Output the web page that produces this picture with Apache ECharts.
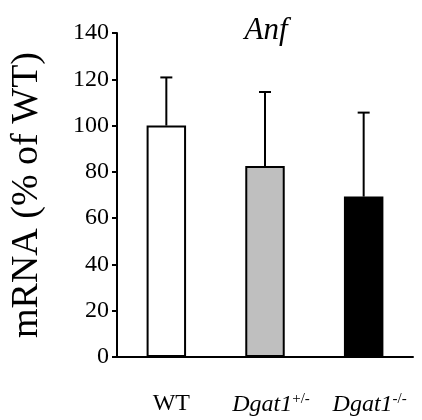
<!DOCTYPE html>
<html>
<head>
<meta charset="utf-8">
<script src="https://cdn.jsdelivr.net/npm/echarts@6/dist/echarts.min.js"></script>
<style>html,body{margin:0;padding:0;background:#fff}#c{width:422px;height:420px}</style>
</head>
<body>
<div id="c"></div>
<script>
const categories = ['WT', 'Dgat1+/-', 'Dgat1-/-'];
const means = [100, 82.5, 69.3];
const errors = [20.8, 32.0, 36.3];
const barColors = ['#ffffff', '#bfbfbf', '#000000'];
const yTicks = [0, 20, 40, 60, 80, 100, 120, 140];

const serif = '"Liberation Serif", "Times New Roman", serif';
const chart = echarts.init(document.getElementById('c'), null, {renderer: 'canvas'});
chart.setOption({
  animation: false,
  backgroundColor: '#fff',
  title: {
    text: 'Anf', left: 261, top: 10, textAlign: 'center',
    textStyle: {fontFamily: serif, fontStyle: 'italic', fontWeight: 'normal', fontSize: 31, color: '#000'}
  },
  grid: {left: 116, right: 9, top: 33, bottom: 63},
  xAxis: {
    type: 'category', data: categories,
    axisLine: {lineStyle: {color: '#000', width: 2}},
    axisTick: {show: false},
    axisLabel: {
      interval: 0, margin: 35, color: '#000',
      formatter: function (v) {
        if (v === 'WT') return '{n|WT}';
        const m = v.match(/^(Dgat1)(.*)$/);
        return '{i|' + m[1] + '}{s|' + m[2] + '}';
      },
      rich: {
        n: {fontFamily: serif, fontSize: 24, color: '#000', padding: [0, 0, 0, 10]},
        i: {fontFamily: serif, fontSize: 24, fontStyle: 'italic', color: '#000', padding: [0, 0, 0, 12]},
        s: {fontFamily: serif, fontSize: 15, color: '#000', verticalAlign: 'bottom', padding: [0, 0, 10, 0]}
      }
    }
  },
  yAxis: {
    type: 'value', min: 0, max: 140, interval: 20,
    name: 'mRNA (% of WT)', nameLocation: 'middle', nameGap: 71,
    nameTextStyle: {fontFamily: serif, fontSize: 38, color: '#000'},
    axisLine: {show: true, lineStyle: {color: '#000', width: 2}},
    axisTick: {show: true, length: 5, lineStyle: {color: '#000', width: 2}},
    axisLabel: {fontFamily: serif, fontSize: 24, color: '#000', margin: 8,
      formatter: function (v) { return yTicks.indexOf(v) >= 0 ? String(v) : ''; }},
    splitLine: {show: false}
  },
  series: [
    {
      type: 'bar', barWidth: '40%',
      data: means.map((v, i) => ({value: v, itemStyle: {color: barColors[i]}})),
      itemStyle: {borderColor: '#000', borderWidth: 2}
    },
    {
      type: 'custom',
      data: means.map((v, i) => [i, v, v + errors[i]]),
      renderItem: function (params, api) {
        const i = api.value(0);
        const p0 = api.coord([i, api.value(1)]);
        const p1 = api.coord([i, api.value(2)]);
        const hw = 6;
        return {
          type: 'group',
          children: [
            {type: 'line', shape: {x1: p0[0], y1: p0[1], x2: p1[0], y2: p1[1]}, style: {stroke: '#000', lineWidth: 2}},
            {type: 'line', shape: {x1: p1[0] - hw, y1: p1[1], x2: p1[0] + hw, y2: p1[1]}, style: {stroke: '#000', lineWidth: 2}}
          ]
        };
      },
      z: 3
    }
  ]
});
</script>
</body>
</html>
